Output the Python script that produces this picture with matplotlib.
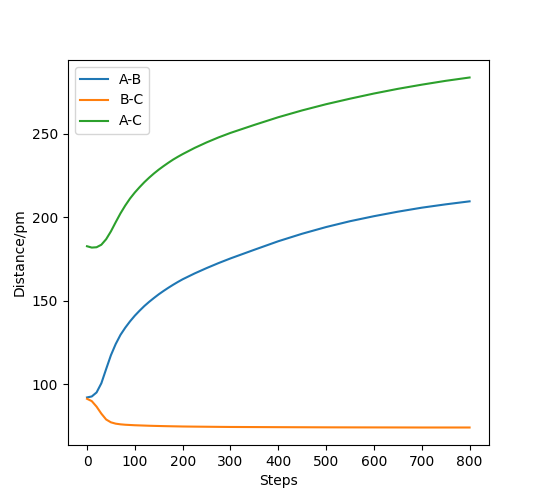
import matplotlib
matplotlib.use('Agg')
import matplotlib.pyplot as plt

# valores (distancias em pm)
steps = [0, 10, 20, 30, 40, 50, 60, 70, 80, 90, 100, 110, 120, 130, 140, 150,
         160, 170, 180, 190, 200, 225, 250, 275, 300, 350, 400, 450, 500, 550,
         600, 650, 700, 750, 800]

ab = [92.0, 92.6, 95.0, 100.5, 109.0, 117.3, 124.0, 129.5, 133.8, 137.6,
      141.0, 144.0, 146.8, 149.3, 151.6, 153.8, 155.8, 157.7, 159.5, 161.2,
      162.8, 166.3, 169.5, 172.5, 175.3, 180.5, 185.6, 190.1, 194.1, 197.6,
      200.6, 203.3, 205.7, 207.7, 209.5]

bc = [91.2, 89.8, 86.5, 82.3, 78.8, 77.1, 76.3, 75.9, 75.65, 75.5,
      75.35, 75.25, 75.15, 75.05, 74.97, 74.9, 74.83, 74.77, 74.71, 74.66,
      74.6, 74.52, 74.45, 74.38, 74.32, 74.26, 74.2, 74.15, 74.1, 74.07,
      74.05, 74.03, 74.0, 74.0, 74.0]

ac = [182.6, 181.8, 182.0, 183.5, 186.8, 191.5, 197.0, 202.3, 207.0, 211.2,
      214.8, 218.0, 221.0, 223.7, 226.2, 228.5, 230.6, 232.6, 234.5, 236.2,
      237.8, 241.5, 244.8, 247.8, 250.5, 255.3, 259.9, 264.0, 267.7, 271.0,
      274.1, 276.9, 279.4, 281.7, 283.7]

fig = plt.figure(figsize=(5.43, 5.0), dpi=100)
plt.plot(steps, ab, label='A-B')
plt.plot(steps, bc, label='B-C')
plt.plot(steps, ac, label='A-C')
plt.xlabel('Steps')
plt.ylabel('Distance/pm')
plt.legend(loc='upper left')
plt.savefig('out.png', dpi=100)
